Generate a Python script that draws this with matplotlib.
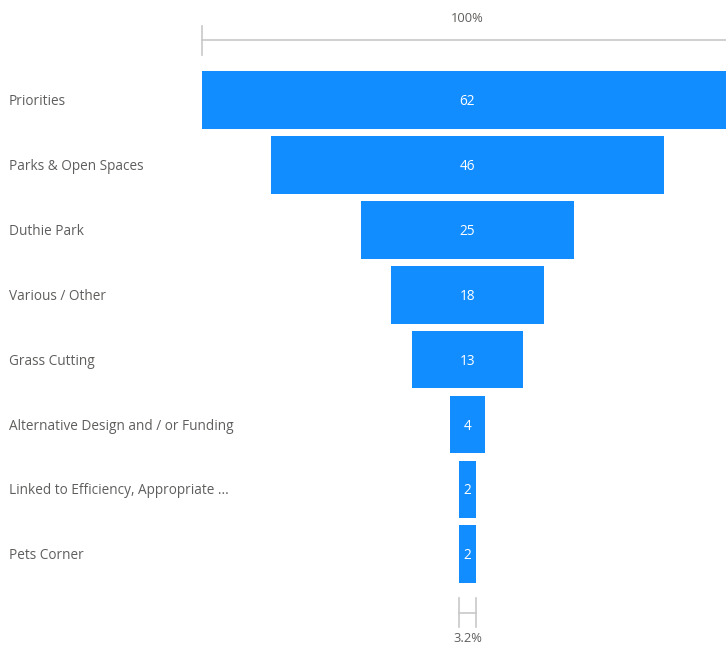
import matplotlib
matplotlib.use("Agg")
import matplotlib.pyplot as plt

# Funnel data
categories = [
    "Priorities",
    "Parks & Open Spaces",
    "Duthie Park",
    "Various / Other",
    "Grass Cutting",
    "Alternative Design and / or Funding",
    "Linked to Efficiency, Appropriate ...",
    "Pets Corner",
]
values = [62, 46, 25, 18, 13, 4, 2, 2]
top_label = "100%"
bottom_label = "3.2%"

BAR_COLOR = "#118DFF"
TEXT_COLOR = "#605E5C"
LINE_COLOR = "#C8C8C8"

W, H = 726, 645
fig = plt.figure(figsize=(W / 100, H / 100), dpi=100)
ax = fig.add_axes([0, 0, 1, 1])
ax.set_axis_off()

# pixel layout -> data coordinates
px_per_unit = 8.55
center_px = 467.5
row0_px = 100
row_px = 64.9
ax.set_xlim(-center_px / px_per_unit, (W - center_px) / px_per_unit)
ax.set_ylim((H - row0_px) / row_px, -row0_px / row_px)

rows = list(range(len(values)))
lefts = [-v / 2 for v in values]
ax.barh(rows, values, left=lefts, height=0.89, color=BAR_COLOR, edgecolor="none")

dy = 1.5 / row_px  # small nudge down to match text baseline
for r, v in zip(rows, values):
    ax.text(0, r + dy, str(v), color="white", fontsize=9.8, ha="center", va="center",
            family="Open Sans")

for r, name in zip(rows, categories):
    ax.text(9 / W, r + dy, name, transform=ax.get_yaxis_transform(), color=TEXT_COLOR,
            fontsize=9.8, ha="left", va="center", family="Open Sans")

# top 100% bracket
first = values[0]
y_line = (40 - row0_px) / row_px
tick_half = 14.5 / row_px
ax.plot([-first / 2, first / 2], [y_line, y_line], color=LINE_COLOR, lw=1.2)
ax.plot([-first / 2, -first / 2], [y_line - tick_half, y_line + tick_half],
        color=LINE_COLOR, lw=1.2)
ax.text(0, (18 - row0_px) / row_px, top_label, color=TEXT_COLOR, fontsize=9.3,
        ha="center", va="center", family="Open Sans")

# bottom bracket
last = values[-1]
y_mid = (612.5 - row0_px) / row_px
ax.plot([-last / 2, last / 2], [y_mid, y_mid], color=LINE_COLOR, lw=1.2)
for xe in (-last / 2, last / 2):
    ax.plot([xe, xe], [y_mid - tick_half, y_mid + tick_half], color=LINE_COLOR, lw=1.2)
ax.text(0, (638 - row0_px) / row_px, bottom_label, color=TEXT_COLOR, fontsize=9.3,
        ha="center", va="center", family="Open Sans")

fig.savefig("out.png", dpi=100, facecolor="white")
